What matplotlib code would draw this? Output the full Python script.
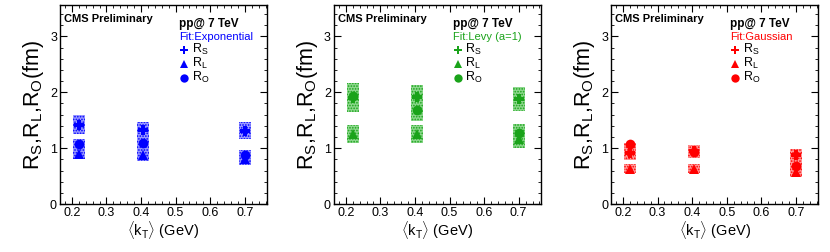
import numpy as np
import matplotlib
matplotlib.use('Agg')
import matplotlib.pyplot as plt
from matplotlib.ticker import MultipleLocator

plt.rcParams['font.family'] = ['Liberation Sans', 'DejaVu Sans']
plt.rcParams['mathtext.fontset'] = 'custom'
plt.rcParams['mathtext.rm'] = 'Liberation Sans'
plt.rcParams['mathtext.it'] = 'Liberation Sans'

# mean kT of the three bins (GeV)
kt = [0.22, 0.405, 0.70]

# Exponential fit
exp_rs = [1.42, 1.33, 1.31]
exp_rl = [0.90, 0.88, 0.80]
exp_ro = [1.07, 1.09, 0.87]
exp_rs_sys = [0.17, 0.14, 0.15]
exp_rl_sys = [0.10, 0.11, 0.10]
exp_ro_sys = [0.10, 0.12, 0.10]

# Levy fit (a=1)
levy_rs = [1.90, 1.91, 1.88]
levy_rl = [1.25, 1.25, 1.16]
levy_ro = [1.94, 1.69, 1.28]
levy_rs_sys = [0.25, 0.22, 0.21]
levy_rl_sys = [0.16, 0.16, 0.15]
levy_ro_sys = [0.23, 0.20, 0.15]

# Gaussian fit
gau_rs = [0.92, 0.95, 0.87]
gau_rl = [0.63, 0.63, 0.58]
gau_ro = [1.07, 0.93, 0.68]
gau_rs_sys = [0.13, 0.10, 0.11]
gau_rl_sys = [0.08, 0.08, 0.09]
gau_ro_sys = [0.03, 0.10, 0.10]

panels = [
    ('Fit:Exponential', '#0000ff', '#9a9aff', exp_rs, exp_rl, exp_ro, exp_rs_sys, exp_rl_sys, exp_ro_sys),
    ('Fit:Levy (a=1)', '#1aa31a', '#8ed88e', levy_rs, levy_rl, levy_ro, levy_rs_sys, levy_rl_sys, levy_ro_sys),
    ('Fit:Gaussian', '#ff0000', '#ff9a9a', gau_rs, gau_rl, gau_ro, gau_rs_sys, gau_rl_sys, gau_ro_sys),
]

fig = plt.figure(figsize=(8.3, 2.52), dpi=100)
lefts = [0.072, 0.402, 0.736]

for left, (fit, col, light, rs, rl, ro, rs_e, rl_e, ro_e) in zip(lefts, panels):
    ax = fig.add_axes([left, 0.19, 0.25, 0.79])
    plt.rcParams['hatch.color'] = col
    plt.rcParams['hatch.linewidth'] = 0.8
    for vals, errs in [(rs, rs_e), (ro, ro_e), (rl, rl_e)]:
        lo = np.array(vals) - np.array(errs)
        ax.bar(kt, 2 * np.array(errs), bottom=lo, width=0.035, color=light,
               hatch='......', edgecolor=col, linewidth=0, zorder=1)
    ax.plot(kt, rs, 'P', color=col, ms=7.5, mew=0, zorder=3)
    ax.plot(kt, rl, '^', color=col, ms=6.5, mew=0, zorder=3)
    ax.plot(kt, ro, 'o', color=col, ms=7, mew=0, zorder=3)

    ax.set_xlim(0.165, 0.765)
    ax.set_ylim(0, 3.56)
    ax.xaxis.set_major_locator(MultipleLocator(0.1))
    ax.xaxis.set_minor_locator(MultipleLocator(0.02))
    ax.yaxis.set_major_locator(MultipleLocator(1))
    ax.yaxis.set_minor_locator(MultipleLocator(0.2))
    ax.tick_params(which='both', direction='in', top=True, right=True, labelsize=9, pad=2)
    ax.tick_params(which='major', length=5, width=0.8)
    ax.tick_params(which='minor', length=2.5, width=0.6)
    for s in ax.spines.values():
        s.set_linewidth(1.0)
    ax.set_xticks([0.2, 0.3, 0.4, 0.5, 0.6, 0.7])
    ax.set_xticklabels(['0.2', '0.3', '0.4', '0.5', '0.6', '0.7'])
    ax.set_xlabel(r'$\langle$k$_{\rm T}\rangle$ (GeV)', fontsize=10.5, labelpad=0)
    ax.set_ylabel(r'R$_{\rm S}$,R$_{\rm L}$,R$_{\rm O}$(fm)', fontsize=15.5, labelpad=3)

    ax.text(0.02, 0.93, 'CMS Preliminary', transform=ax.transAxes, fontsize=8,
            fontweight='bold', va='center')
    ax.text(0.575, 0.905, 'pp@ 7 TeV', transform=ax.transAxes, fontsize=8.5,
            fontweight='bold', va='center')
    ax.text(0.575, 0.84, fit, transform=ax.transAxes, fontsize=8, color=col, va='center')
    for i, (m, lab) in enumerate([('P', 'S'), ('^', 'L'), ('o', 'O')]):
        yy = 0.775 - i * 0.07
        ax.plot([0.60], [yy], m, color=col, ms=6, mew=0, transform=ax.transAxes)
        ax.text(0.635, yy, r'R$_{\rm ' + lab + '}$', transform=ax.transAxes,
                fontsize=9, va='center')

fig.savefig('out.png', dpi=100)
